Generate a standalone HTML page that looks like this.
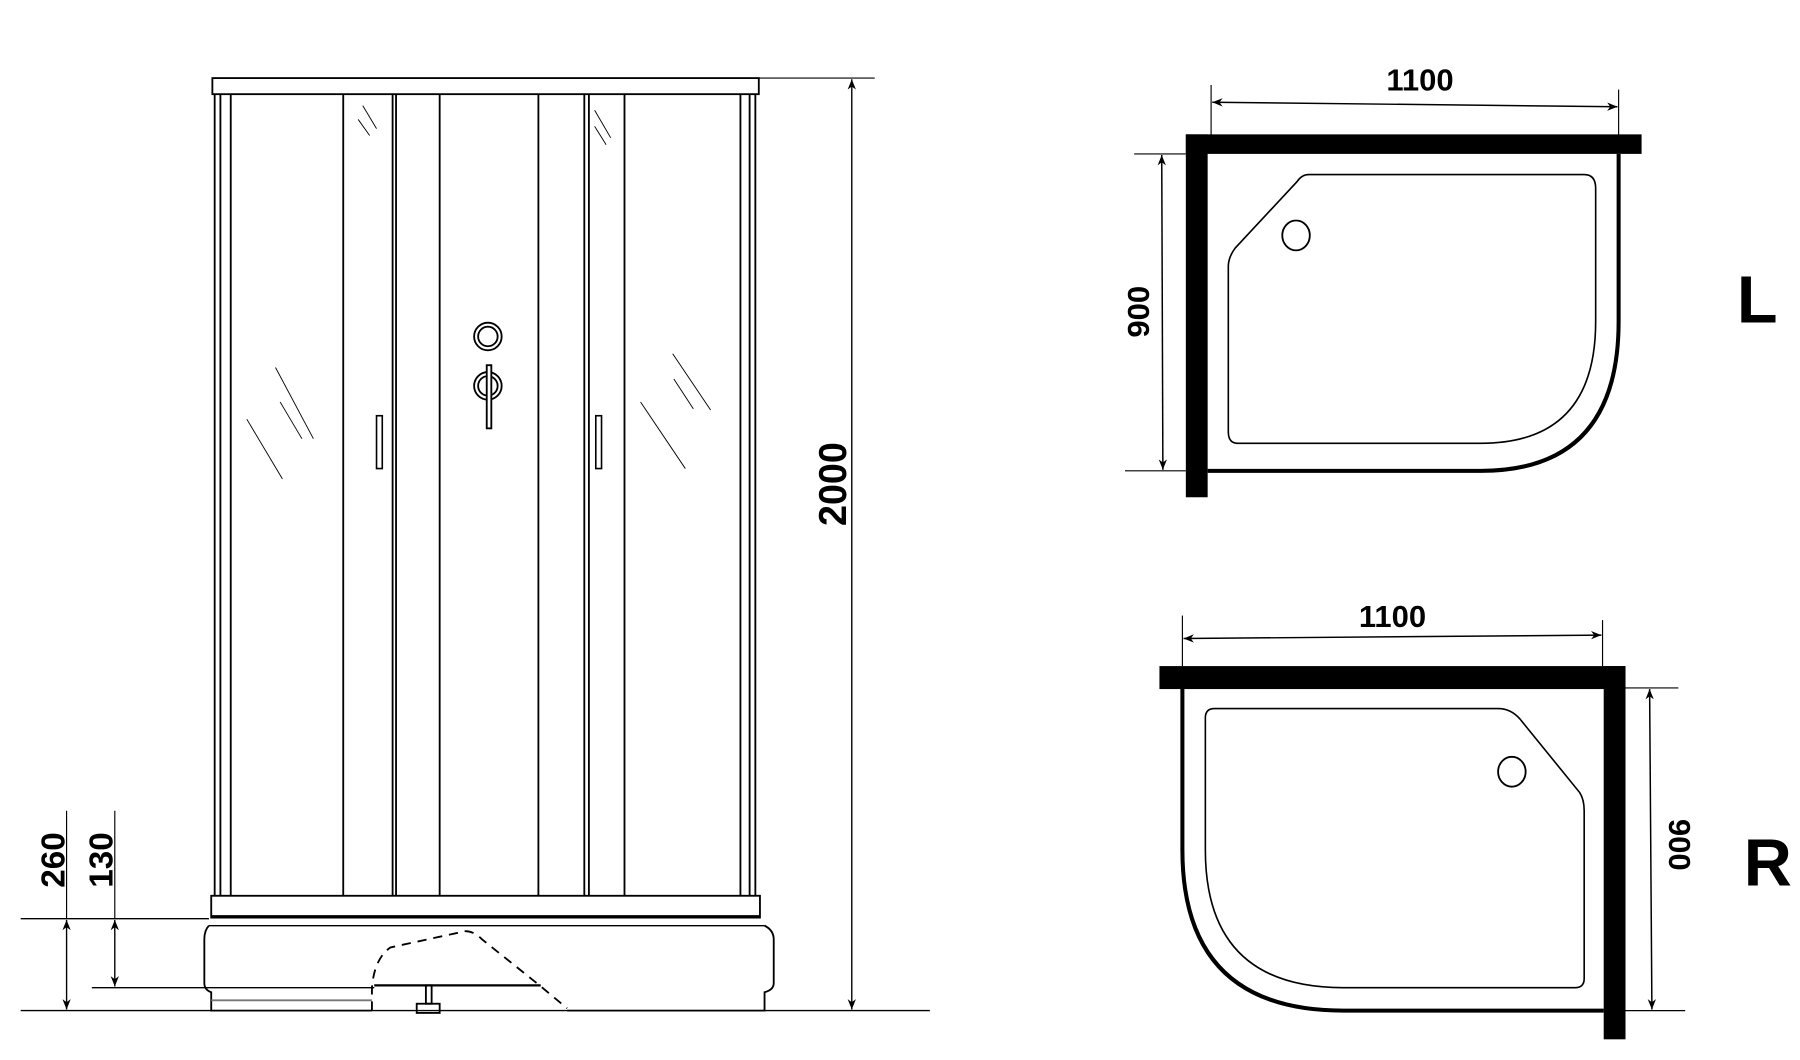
<!DOCTYPE html>
<html><head><meta charset="utf-8"><style>
html,body{margin:0;padding:0;background:#fff;}
svg{display:block;}
text{font-family:"Liberation Sans",sans-serif;font-weight:bold;fill:#000;}
</style></head><body>
<svg width="1800" height="1060" viewBox="0 0 1568 923" preserveAspectRatio="none" xmlns="http://www.w3.org/2000/svg">
<defs>
<marker id="a" viewBox="0 0 10 10" refX="10" refY="5" markerWidth="9" markerHeight="9" orient="auto-start-reverse" markerUnits="userSpaceOnUse">
<path d="M0,1 L10,5 L0,9 L3,5 Z" fill="#000"/></marker>
</defs>
<rect width="1568" height="923" fill="#fff"/>
<g stroke="#000" fill="none" stroke-width="1.6">
<rect x="185" y="68" width="476" height="14"/>
<line x1="661" y1="68" x2="762" y2="68" stroke-width="1"/>
<line x1="187" y1="82" x2="187" y2="780"/><line x1="192" y1="82" x2="192" y2="780"/>
<line x1="201" y1="82" x2="201" y2="780"/>
<line x1="299" y1="82" x2="299" y2="780"/>
<line x1="342" y1="82" x2="342" y2="780"/><line x1="345" y1="82" x2="345" y2="780"/>
<line x1="383" y1="82" x2="383" y2="780"/>
<line x1="469" y1="82" x2="469" y2="780"/>
<line x1="509" y1="82" x2="509" y2="780"/><line x1="513" y1="82" x2="513" y2="780"/>
<line x1="544" y1="82" x2="544" y2="780"/>
<line x1="645" y1="82" x2="645" y2="780"/>
<line x1="653" y1="82" x2="653" y2="780"/><line x1="658" y1="82" x2="658" y2="780"/>
<rect x="328" y="362" width="5" height="46" stroke-width="1.4"/>
<rect x="519" y="362" width="5" height="46" stroke-width="1.4"/>
<circle cx="425" cy="293" r="12"/><circle cx="425" cy="293" r="8.5"/>
<circle cx="425" cy="336" r="12"/><circle cx="425" cy="336" r="8.5"/>
<rect x="424" y="318" width="4" height="55" fill="#fff"/>
<g stroke-width="0.8">
<line x1="240" y1="320" x2="273" y2="382"/><line x1="263" y1="382" x2="244" y2="350"/>
<line x1="215" y1="365" x2="246" y2="417"/>
<line x1="586" y1="308" x2="619" y2="357"/><line x1="587" y1="330" x2="604" y2="356"/>
<line x1="558" y1="350" x2="597" y2="408"/>
<line x1="316" y1="92" x2="328" y2="112"/><line x1="312" y1="104" x2="322" y2="118"/>
<line x1="518" y1="96" x2="532" y2="120"/><line x1="518" y1="110" x2="528" y2="126"/>
</g>
<rect x="184" y="780" width="478" height="19"/>
<line x1="184" y1="798" x2="662" y2="798" stroke-width="2.4"/>
<line x1="182" y1="806" x2="666" y2="806" stroke-width="1.2"/>
<path d="M182,806 Q178,810 178,818 L178,856 Q178,862 184,864 L184,880 L324,880" />
<path d="M494,880 L666,880 L666,864 Q674,862 674,856 L674,818 Q674,810 666,806"/>
<line x1="184" y1="871" x2="324" y2="871" stroke="#777"/>
<path d="M324,880 L324,860 Q326,835 340,825 L400,812 Q410,808 420,818 L470,858 L494,878" stroke-dasharray="8,6"/>
<line x1="326" y1="858" x2="471" y2="858" stroke-width="2"/>
<rect x="371" y="858" width="5" height="16"/>
<rect x="363" y="874" width="20" height="8"/>
<line x1="18" y1="880" x2="810" y2="880" stroke-width="1.2"/>
<line x1="18" y1="800" x2="182" y2="800" stroke-width="1.2"/>
<line x1="80" y1="860" x2="326" y2="860" stroke-width="1.2"/>
<line x1="742" y1="69" x2="742" y2="879" stroke-width="1.2" marker-start="url(#a)" marker-end="url(#a)"/>
<line x1="58" y1="706" x2="58" y2="800" stroke-width="1"/>
<line x1="58" y1="801" x2="58" y2="879" stroke-width="1.2" marker-start="url(#a)" marker-end="url(#a)"/>
<line x1="100" y1="706" x2="100" y2="800" stroke-width="1"/>
<line x1="100" y1="801" x2="100" y2="859" stroke-width="1.2" marker-start="url(#a)" marker-end="url(#a)"/>
</g>
<text transform="translate(737,458) rotate(-90)" font-size="34" textLength="73" lengthAdjust="spacingAndGlyphs">2000</text>
<text transform="translate(56,773) rotate(-90)" font-size="29">260</text>
<text transform="translate(98,773) rotate(-90)" font-size="29">130</text>

<g stroke="#000" fill="none">
<rect x="1033" y="117" width="397" height="17" fill="#000" stroke="none"/>
<rect x="1033" y="117" width="19" height="316" fill="#000" stroke="none"/>
<path d="M1410,134 L1410,280 Q1410,410 1290,410 L1052,410" stroke-width="3.5"/>
<path d="M1140,152 L1380,152 Q1390,152 1390,164 L1390,280 Q1390,386 1290,386 L1078,386 Q1070,386 1070,376 L1070,232 Q1070,224 1076,216 L1130,158 Q1134,152 1140,152 Z" stroke-width="1.4"/>
<ellipse cx="1129" cy="205" rx="12" ry="13" stroke-width="1.6"/>
<line x1="1055" y1="74" x2="1055" y2="130" stroke-width="1"/>
<line x1="1410" y1="78" x2="1410" y2="130" stroke-width="1"/>
<line x1="1056" y1="89" x2="1409" y2="93" stroke-width="1.3" marker-start="url(#a)" marker-end="url(#a)"/>
<line x1="988" y1="134" x2="1033" y2="134" stroke-width="1"/>
<line x1="980" y1="410" x2="1033" y2="410" stroke-width="1"/>
<line x1="1012" y1="135" x2="1013" y2="409" stroke-width="1.3" marker-start="url(#a)" marker-end="url(#a)"/>
</g>
<text x="1237" y="79" font-size="27" text-anchor="middle">1100</text>
<text transform="translate(1001,294) rotate(-90)" font-size="27">900</text>
<text x="1513" y="281" font-size="58">L</text>

<g stroke="#000" fill="none">
<rect x="1010" y="580" width="406" height="20" fill="#000" stroke="none"/>
<rect x="1397" y="580" width="19" height="325" fill="#000" stroke="none"/>
<path d="M1030,600 L1030,740 Q1030,880 1170,880 L1397,880" stroke-width="3.5"/>
<path d="M1058,617 L1305,617 Q1316,617 1324,626 L1376,690 Q1380,696 1380,706 L1380,852 Q1380,860 1372,860 L1170,860 Q1050,860 1050,740 L1050,625 Q1050,617 1058,617 Z" stroke-width="1.4"/>
<ellipse cx="1317" cy="672" rx="12" ry="13" stroke-width="1.6"/>
<line x1="1030" y1="536" x2="1030" y2="580" stroke-width="1"/>
<line x1="1396" y1="540" x2="1396" y2="580" stroke-width="1"/>
<line x1="1031" y1="556" x2="1395" y2="553" stroke-width="1.3" marker-start="url(#a)" marker-end="url(#a)"/>
<line x1="1416" y1="599" x2="1462" y2="599" stroke-width="1"/>
<line x1="1416" y1="880" x2="1468" y2="880" stroke-width="1"/>
<line x1="1437" y1="600" x2="1439" y2="879" stroke-width="1.3" marker-start="url(#a)" marker-end="url(#a)"/>
</g>
<text x="1213" y="546" font-size="27" text-anchor="middle">1100</text>
<text transform="translate(1454,713) rotate(90)" font-size="27">900</text>
<text x="1519" y="771" font-size="58">R</text>
</svg>
</body></html>
